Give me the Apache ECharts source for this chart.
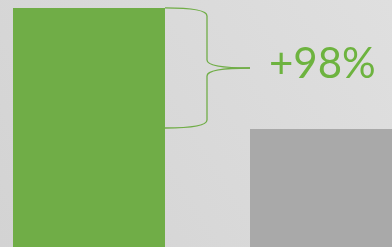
<!DOCTYPE html>
<html>
<head>
<meta charset="utf-8">
<script src="https://cdn.jsdelivr.net/npm/echarts@6/dist/echarts.min.js"></script>
<style>
  html, body { margin: 0; padding: 0; }
  #main { width: 392px; height: 247px; }
</style>
</head>
<body>
<div id="main"></div>
<script>
    // data
    var categories = ['after', 'before'];
    var values = [198, 100];
    var barColors = ['#70ad47', '#a9a9a9'];

    var chart = echarts.init(document.getElementById('main'));
    var green = '#70ad47';

    chart.setOption({
        animation: false,
        backgroundColor: {
            type: 'linear', x: 0, y: 1, x2: 1, y2: 0,
            colorStops: [{offset: 0, color: '#d3d3d3'}, {offset: 1, color: '#dfdfdf'}]
        },
        // the baseline sits a little below the picture's bottom edge
        grid: {left: 89, right: 66, top: 5.5, bottom: -5.5, outerBoundsMode: 'none'},
        xAxis: {type: 'category', data: categories, boundaryGap: false, show: false},
        yAxis: {type: 'value', min: 0, max: 200, show: false},
        series: [{
            type: 'bar',
            barWidth: 152,
            clip: false,
            data: values.map(function (v, i) {
                return {value: v, itemStyle: {color: barColors[i]}};
            })
        }]
    });

    // brace + label, placed from the bars' pixel positions
    var topA = chart.convertToPixel({seriesIndex: 0}, [0, values[0]]);
    var topB = chart.convertToPixel({seriesIndex: 0}, [1, values[1]]);
    var x0 = topA[0] + 76;          // right edge of first bar
    var xt = topB[0] - 76;          // left edge of second bar
    var xm = x0 + 42;
    var y1 = topA[1], y2 = topB[1] - 1, ym = (y1 + y2) / 2;
    var pct = Math.round((values[0] / values[1] - 1) * 100);
    var st = {fill: null, stroke: green, lineWidth: 1.3};

    function curve(ax, ay, bx, by, cx, cy) {
        return {type: 'bezierCurve', shape: {x1: ax, y1: ay, x2: bx, y2: by, cpx1: cx, cpy1: cy}, style: st};
    }
    function seg(ax, ay, bx, by) {
        return {type: 'line', shape: {x1: ax, y1: ay, x2: bx, y2: by}, style: st};
    }

    chart.setOption({
        graphic: [
            curve(x0, y1, xm, y1 + 8, xm, y1),
            seg(xm, y1 + 8, xm, ym - 8),
            curve(xm, ym - 8, xt, ym, xm, ym),
            curve(xt, ym, xm, ym + 8, xm, ym),
            seg(xm, ym + 8, xm, y2 - 8),
            curve(xm, y2 - 8, x0, y2, xm, y2),
            {
                type: 'text',
                left: xt + 19,
                top: ym - 25,
                style: {
                    text: '+' + pct + '%',
                    fill: '#6db33f',
                    font: '42px Lato'
                }
            }
        ]
    });
</script>
</body>
</html>
